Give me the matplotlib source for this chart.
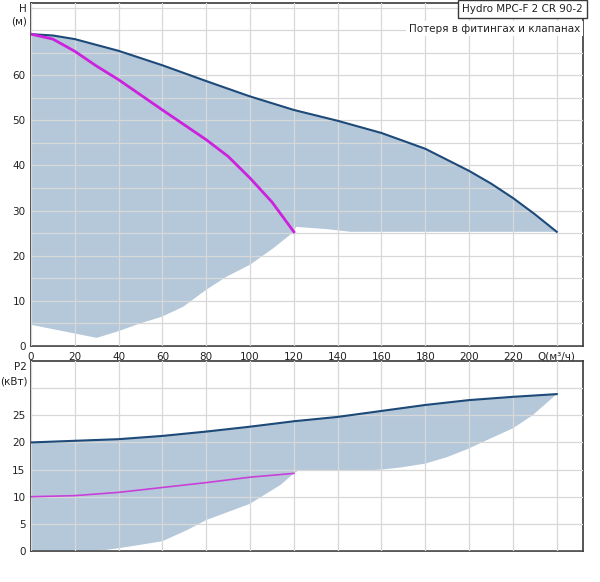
import matplotlib
matplotlib.use("Agg")
import matplotlib.pyplot as plt

# ---- data ----
q_ticks = [0, 20, 40, 60, 80, 100, 120, 140, 160, 180, 200, 220, 240]
q_tick_labels = ["0", "20", "40", "60", "80", "100", "120", "140", "160", "180", "200", "220", "Q(м³/ч)"]

# head chart
q_head_max = [0, 10, 20, 40, 60, 80, 100, 120, 140, 160, 180, 200, 210, 220, 230, 240]
h_head_max = [69.1, 68.8, 68.0, 65.4, 62.2, 58.7, 55.3, 52.3, 49.9, 47.2, 43.7, 38.8, 36.0, 32.8, 29.2, 25.3]

q_head_op = [0, 10, 20, 30, 40, 60, 80, 90, 100, 110, 120]
h_head_op = [69.1, 68.0, 65.3, 62.0, 59.0, 52.3, 45.7, 42.0, 37.2, 31.9, 25.3]

q_head_low = [240, 146, 135, 121, 120, 110.7, 100, 89.4, 79.8, 69.5, 59.8, 49.8, 39.4, 30, 0]
h_head_low = [25.3, 25.3, 25.9, 26.4, 25.3, 21.7, 18.0, 15.4, 12.4, 8.7, 6.5, 5.0, 3.2, 1.8, 4.7]

# power chart
q_pow_max = [0, 20, 40, 60, 80, 100, 120, 140, 160, 180, 200, 220, 240]
p_pow_max = [20.0, 20.3, 20.6, 21.2, 22.0, 22.9, 23.9, 24.7, 25.8, 26.9, 27.8, 28.4, 28.9]

q_pow_op = [0, 20, 40, 60, 80, 100, 120]
p_pow_op = [10.0, 10.2, 10.8, 11.7, 12.6, 13.6, 14.3]

q_pow_low = [240, 229, 220, 208, 200, 190, 180, 169, 160, 150, 125, 122, 120, 114, 100, 80, 71.5, 60, 40, 30, 0]
p_pow_low = [28.9, 25.0, 22.6, 20.4, 18.9, 17.3, 16.1, 15.4, 15.0, 14.8, 14.8, 14.8, 14.3, 12.2, 8.7, 5.7, 3.9, 1.8, 0.5, 0, 0]

title_text = "Hydro MPC-F 2 CR 90-2"
subtitle_text = "Потеря в фитингах и клапанах"

# ---- style ----
FILL = "#b4c8da"
DARK = "#1d4a78"
MAG = "#cc22dd"
MAG2 = "#c940d8"
GRID = "#d8d8d8"
SPINE = "#383838"
TXT = "#222222"
FS = 7.5

fig = plt.figure(figsize=(6.0, 5.82), dpi=100)
fig.patch.set_facecolor("white")

ax1 = fig.add_axes([31/600, 1-346/582, 552/600, 343/582])
ax2 = fig.add_axes([31/600, 1-551/582, 552/600, 190/582])

def style(ax):
    for s in ax.spines.values():
        s.set_color(SPINE)
        s.set_linewidth(1.2)
    ax.tick_params(length=0, labelsize=FS, colors=TXT, pad=4)
    ax.grid(True, color=GRID, linewidth=0.9, zorder=2)
    ax.set_axisbelow(False)

# ---- head chart ----
ax1.fill(q_head_max + q_head_low, h_head_max + h_head_low, color=FILL, lw=0, zorder=1)
ax1.plot(q_head_max, h_head_max, color=DARK, lw=1.5, zorder=3)
ax1.plot(q_head_op, h_head_op, color=MAG, lw=2.0, zorder=3)
ax1.set_xlim(0, 252)
ax1.set_ylim(0, 76)
ax1.set_xticks(q_ticks)
ax1.set_xticklabels(q_tick_labels)
ax1.set_yticks(list(range(0, 80, 5)))
ax1.set_yticklabels([str(v) if (v % 10 == 0 and v <= 60) else "" for v in range(0, 80, 5)])
style(ax1)

ax1.text(0.999, 0.998, title_text, transform=ax1.transAxes, ha="right", va="top",
         fontsize=FS, color=TXT, zorder=5,
         bbox=dict(boxstyle="square,pad=0.4", fc="white", ec=SPINE, lw=1.0))
ax1.text(0.995, 0.94, subtitle_text, transform=ax1.transAxes, ha="right", va="top",
         fontsize=FS, color=TXT, zorder=5,
         bbox=dict(boxstyle="square,pad=0.25", fc="white", ec="none"))

# ---- power chart ----
ax2.fill(q_pow_max + q_pow_low, p_pow_max + p_pow_low, color=FILL, lw=0, zorder=1)
ax2.plot(q_pow_max, p_pow_max, color=DARK, lw=1.5, zorder=3)
ax2.plot(q_pow_op, p_pow_op, color=MAG2, lw=1.2, zorder=3)
ax2.set_xlim(0, 252)
ax2.set_ylim(0, 35)
ax2.set_xticks(q_ticks)
ax2.set_xticklabels([])
ax2.set_yticks(list(range(0, 35, 5)))
ax2.set_yticklabels([str(v) if v <= 25 else "" for v in range(0, 35, 5)])
style(ax2)

# axis titles
fig.text(27/600, 1-9/582, "H", ha="right", va="center", fontsize=FS, color=TXT)
fig.text(27/600, 1-22/582, "(м)", ha="right", va="center", fontsize=FS, color=TXT)
fig.text(27/600, 1-367/582, "P2", ha="right", va="center", fontsize=FS, color=TXT)
fig.text(28/600, 1-381/582, "(кВт)", ha="right", va="center", fontsize=FS, color=TXT)

fig.savefig("out.png", dpi=100, facecolor="white")
